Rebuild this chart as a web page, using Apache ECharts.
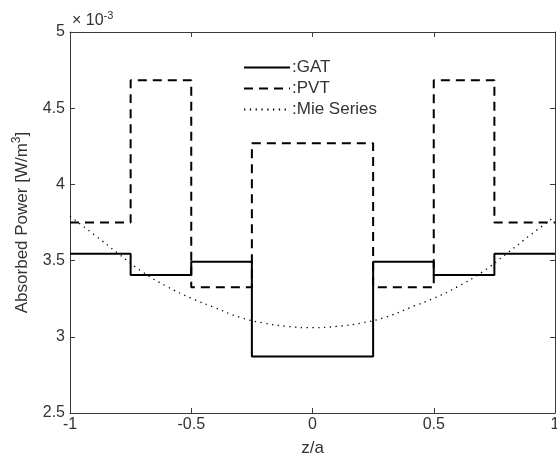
<!DOCTYPE html>
<html>
<head>
<meta charset="utf-8">
<script src="https://cdn.jsdelivr.net/npm/echarts@6/dist/echarts.min.js"></script>
<style>html,body{margin:0;padding:0;background:#fff}#c{width:557px;height:459px}</style>
</head>
<body>
<div id="c"></div>
<script>
// Segment edges along z/a
var edges = [-1, -0.75, -0.5, -0.25, 0.25, 0.5, 0.75, 1];
// Piecewise-constant values (x 10^-3 W/m^3), one per segment
var gatValues = [3.545, 3.405, 3.492, 2.87, 3.492, 3.405, 3.545];
var pvtValues = [3.75, 4.683, 3.325, 4.27, 3.325, 4.683, 3.75];
// Mie series curve samples
var mieZ = [-1, -0.9, -0.8, -0.7, -0.6, -0.5, -0.4, -0.3, -0.2, -0.1, 0, 0.1, 0.2, 0.3, 0.4, 0.5, 0.6, 0.7, 0.8, 0.9, 1];
var mieValues = [3.79, 3.67, 3.545, 3.425, 3.33, 3.253, 3.19, 3.128, 3.09, 3.068, 3.06, 3.068, 3.09, 3.128, 3.19, 3.253, 3.33, 3.425, 3.545, 3.67, 3.79];
// Axis ticks
var xTicks = [-1, -0.5, 0, 0.5, 1];
var yTicks = [2.5, 3, 3.5, 4, 4.5, 5];

function stepData(vals) {
  var d = [];
  for (var i = 0; i < vals.length; i++) d.push([edges[i], vals[i]]);
  d.push([edges[edges.length - 1], vals[vals.length - 1]]);
  return d;
}
var mieData = mieZ.map(function (z, i) { return [z, mieValues[i]]; });

var FONT = 'Liberation Sans, Arial, sans-serif';
var FS = 16;
var FN = 17;
var TXT = '#333';
var AX = '#3a3a3a';
var chart = echarts.init(document.getElementById('c'), null, { renderer: 'canvas' });

function xAx(pos, show) {
  return {
    type: 'value', position: pos, min: xTicks[0], max: xTicks[xTicks.length - 1], interval: 0.5,
    axisLine: { show: true, onZero: false, lineStyle: { color: AX, width: 1 } },
    axisTick: { show: true, inside: true, length: 5, lineStyle: { color: AX } },
    axisLabel: { show: show, color: TXT, fontFamily: FONT, fontSize: FS, margin: 4,
      formatter: function (v) { return String(v); } },
    splitLine: { show: false },
    name: show ? 'z/a' : '', nameLocation: 'middle', nameGap: 27,
    nameTextStyle: { color: TXT, fontFamily: FONT, fontSize: FN }
  };
}
function yAx(pos, show) {
  return {
    type: 'value', position: pos, min: yTicks[0], max: yTicks[yTicks.length - 1], interval: 0.5,
    axisLine: { show: true, onZero: false, lineStyle: { color: AX, width: 1 } },
    axisTick: { show: true, inside: true, length: 5, lineStyle: { color: AX } },
    axisLabel: { show: show, color: TXT, fontFamily: FONT, fontSize: FS, margin: 5,
      formatter: function (v) { return String(v); } },
    splitLine: { show: false },
    name: show ? 'Absorbed Power [W/m{s|3}]' : '', nameLocation: 'middle', nameGap: 37,
    nameTextStyle: { color: TXT, fontFamily: FONT, fontSize: FN,
      rich: { s: { fontSize: 12, color: TXT, fontFamily: FONT, padding: [0, 0, 10, 0] } } }
  };
}

chart.setOption({
  animation: false,
  backgroundColor: '#fff',
  grid: { left: 70, top: 32, right: 2, bottom: 46, containLabel: false, outerBoundsMode: 'none' },
  title: {
    text: '\u00d7 10{s|-3}', left: 67, top: 5,
    textStyle: { color: TXT, fontFamily: FONT, fontSize: FS, fontWeight: 'normal',
      rich: { s: { fontSize: 11, color: TXT, fontFamily: FONT, padding: [0, 0, 10, 0] } } }
  },
  legend: {
    orient: 'vertical', left: 243, top: 59, padding: 0, itemWidth: 46, itemHeight: 17, itemGap: 4,
    formatter: function (n) { return ':' + n; },
    itemStyle: { color: 'rgba(0,0,0,0)', borderWidth: 0, opacity: 0 },
    textStyle: { color: TXT, fontFamily: FONT, fontSize: FN, padding: [0, 0, 0, -3] },
    data: ['GAT', 'PVT', 'Mie Series']
  },
  xAxis: [xAx('bottom', true), xAx('top', false)],
  yAxis: [yAx('left', true), yAx('right', false)],
  series: [
    { name: 'GAT', type: 'line', step: 'end', data: stepData(gatValues), symbol: 'none',
      lineStyle: { color: '#000', width: 2 }, itemStyle: { color: '#000' } },
    { name: 'PVT', type: 'line', step: 'end', data: stepData(pvtValues), symbol: 'none',
      lineStyle: { color: '#000', width: 2, type: [9, 6] }, itemStyle: { color: '#000' } },
    { name: 'Mie Series', type: 'line', smooth: true, data: mieData, symbol: 'none',
      lineStyle: { color: '#000', width: 1.3, type: [1.3, 4.5] }, itemStyle: { color: '#000' } }
  ]
});
</script>
</body>
</html>
